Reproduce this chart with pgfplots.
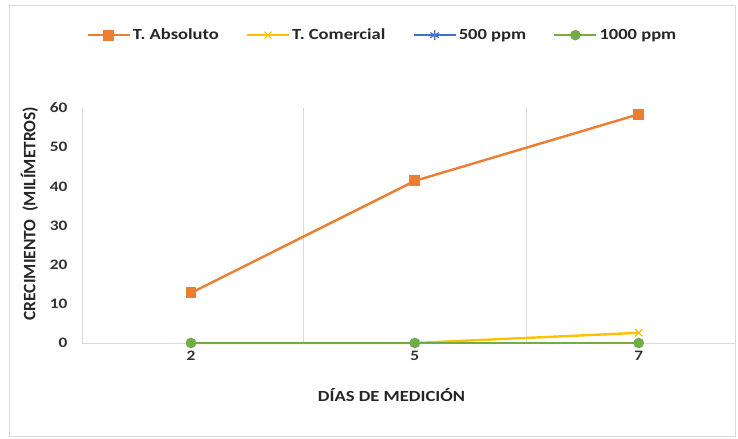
\documentclass[border=0pt]{standalone}
\usepackage{pgfplots}
\pgfplotsset{compat=1.18}
\usepackage{fontspec}
\setmainfont{Carlito}
\newfontfamily\wide{Carlito}[FakeStretch=1.2]
\definecolor{cOrange}{HTML}{ED7D31}
\definecolor{cYellow}{HTML}{FFC000}
\definecolor{cBlue}{HTML}{4472C4}
\definecolor{cGreen}{HTML}{70AD47}
\definecolor{cGrid}{HTML}{D9D9D9}
\begin{document}
\begin{tikzpicture}[x=1bp,y=1bp]
\path[use as bounding box] (0,0) rectangle (738,439);
\draw[cGrid,line width=0.8bp] (9,3) rectangle (735,434);
\begin{axis}[
  at={(82bp,96bp)}, anchor=south west,
  width=653bp, height=235bp, scale only axis,
  xmin=-0.487, xmax=2.43, ymin=0, ymax=60,
  clip=false,
  axis x line*=bottom, axis y line*=left,
  axis line style={cGrid, line width=0.8bp},
  x axis line style={-},
  y axis line style={-},
  xtick={0,1,2}, xticklabels={2,5,7},
  ytick={0,10,...,60},
  major tick length=0pt,
  minor xtick={0.5,1.5},
  minor x grid style={cGrid, line width=0.8bp},
  xminorgrids=true, minor tick length=0pt,
  ticklabel style={font=\wide\bfseries\fontsize{14.5}{16}\selectfont, text=black!80},
  /pgf/number format/assume math mode=true,
  xticklabel style={yshift=-5bp},
  yticklabel style={xshift=-11bp},
  xlabel={\wide\bfseries DÍAS DE MEDICIÓN},
  ylabel={\bfseries CRECIMIENTO \ (MILÍMETROS)},
  xlabel style={font=\wide\bfseries\fontsize{15.5}{17}\selectfont, text=black!85, yshift=-21bp, xshift=-17bp},
  ylabel style={font=\bfseries\fontsize{17.5}{19}\selectfont, text=black!85, yshift=5bp, xshift=12bp},
  legend columns=4,
  legend style={at={(0.46,1.31)}, anchor=center, draw=none, fill=none,
    font=\wide\bfseries\fontsize{15.5}{17}\selectfont, text=black!85,
    /tikz/every even column/.append style={column sep=25bp}},
  legend image code/.code={
    \draw[#1, mark repeat=2, mark phase=2] plot coordinates {(0bp,0bp) (21bp,0bp) (42bp,0bp)};},
]
\addplot[cOrange, line width=2.4bp, mark=square*, mark size=4.2bp, mark options={solid}]
  coordinates {(0,12.8) (1,41.4) (2,58.4)};
\addlegendentry{T. Absoluto}
\addplot[cYellow, line width=2.4bp, mark=x, mark size=5bp, mark options={line width=1.2bp}]
  coordinates {(0,0) (1,0) (2,2.6)};
\addlegendentry{T. Comercial}
\addplot[cBlue, line width=2.4bp, mark=asterisk, mark size=5bp, mark options={line width=1.2bp}]
  coordinates {(0,0) (1,0) (2,0)};
\addlegendentry{500 ppm}
\addplot[cGreen, line width=2.4bp, mark=*, mark size=4bp]
  coordinates {(0,0) (1,0) (2,0)};
\addlegendentry{1000 ppm}
\end{axis}
\end{tikzpicture}
\end{document}
